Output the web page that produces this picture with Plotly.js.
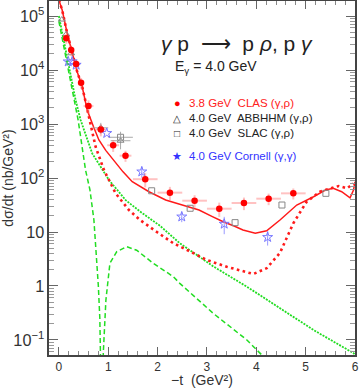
<!DOCTYPE html>
<html><head><meta charset="utf-8">
<script src="https://cdn.plot.ly/plotly-3.0.1.min.js"></script>
<style>body{margin:0;background:#fff}#c{width:359px;height:388px}</style>
</head><body><div id="c"></div>
<script>
// CLAS 3.8 GeV (gamma,rho)
const clasT   = [0.15,0.25,0.35,0.45,0.6,0.85,1.1,1.35,1.75,2.25,2.75,3.25,3.75,4.25,4.75];
const clasY   = [38600,23400,12900,5800,2150,790,404,259,95,53.5,38,27,34.4,41.4,52];
const clasTerr= [0.05,0.05,0.05,0.05,0.1,0.1,0.12,0.12,0.25,0.25,0.25,0.25,0.25,0.25,0.25];
const clasYerr= [8000,5000,2500,1300,600,200,100,60,28,15,10,8,9,10,12];
// ABBHHM 4.0 GeV (gamma,rho)
const abbT    = [0.06,0.15,0.25,0.85,1.25];
const abbY    = [86000,45900,20400,850,490];
const abbTerr = [0,0,0,0.15,0.2];
const abbYerr = [0,0,0,200,150];
// SLAC 4.0 GeV (gamma,rho)
const slacT   = [1.25,1.88,2.66,3.57,4.52,5.41];
const slacY   = [568,58,27.5,14.9,31.6,52];
const slacTerr= [0.25,0,0,0,0,0];
const slacYerr= [150,0,0,0,0,0];
// Cornell 4.0 GeV (gamma,gamma)
const cornT   = [0.19,0.27,0.35,0.97,1.68,2.49,3.35,4.23];
const cornY   = [14300,14300,12400,675,131,19.2,14.1,8.0];
const cornYerr= [0,0,0,0,30,4,5,2.4];
// model curves
const solidT = [0,0.067,0.168,0.27,0.371,0.473,0.574,0.7,0.811,0.95,1.15,1.3,1.487,1.65,1.826,2.0,2.164,2.5,2.84,3.1,3.33,3.55,3.73,3.98,4.21,4.48,4.82,5.16,5.40,5.56,5.73,5.90,5.97,6.0];
const solidY = [198000,129000,48000,20400,9300,4900,1820,900,506,325,187,130,85.5,69,55.7,46.5,39.2,31.6,25.5,19.5,15.5,12.9,10.9,9.5,10.5,16.7,31.6,45,60,64.4,55.7,43,60,85];
const dotT = [0,0.067,0.168,0.27,0.371,0.473,0.574,0.65,0.744,0.913,1.15,1.42,1.643,2.0,2.318,2.65,2.996,3.4,3.7,3.94,4.21,4.48,4.75,5.02,5.29,5.50,5.67,5.84,5.97];
const dotY = [198000,129000,48000,20400,9300,4900,1820,900,380,141,52,25.5,16.7,9.8,6.2,4.4,3.03,2.27,1.9,1.67,2.13,4.1,14.5,36.4,55.7,64.4,71,64.4,79];
const gDotT = [0,0.1,0.2,0.34,0.44,0.675,1.014,1.353,1.643,1.826,2.05,2.45,2.93,3.13,3.81,4.48,5.16,5.97,6.0];
const gDotY = [100000,36000,11500,2760,1186,286,92,39,24,18.5,13,6.2,3.0,2.3,0.97,0.39,0.153,0.057,0.053];
const gDashT = [0,0.1,0.2,0.3,0.39,0.54,0.63,0.71,0.765,0.8,0.83,0.855,0.866,0.875,0.9,0.953,1.034,1.17,1.373,1.576,1.913,2.318,2.45,3.13,3.81,4.11,4.2];
const gDashY = [80000,28000,9000,3000,1186,141,60,16.7,3.5,1.0,0.25,0.055,0.001,0.001,0.057,0.55,2.63,4.3,5.35,4.6,2.63,1.49,1.12,0.31,0.1,0.053,0.04];

const green = '#22dd22';
const traces = [
 {x:gDashT,y:gDashY,mode:'lines',line:{color:green,width:1.5,dash:'5px,3px'}},
 {x:gDotT,y:gDotY,mode:'lines',line:{color:green,width:1.8,dash:'2px,1.2px'}},
 {x:dotT,y:dotY,mode:'lines',line:{color:'#ff1a1a',width:2.6,dash:'2.6px,3.4px'}},
 {x:solidT,y:solidY,mode:'lines',line:{color:'#ff1a1a',width:1.5}},
 {x:slacT,y:slacY,mode:'markers',marker:{symbol:'square-open',size:6,color:'#888',line:{width:1}},
  error_x:{type:'data',array:slacTerr,color:'#aaa',thickness:1,width:0},
  error_y:{type:'data',array:slacYerr,color:'#aaa',thickness:1,width:0}},
 {x:abbT,y:abbY,mode:'markers',marker:{symbol:'triangle-up-open',size:6,color:'#888',line:{width:1}},
  error_x:{type:'data',array:abbTerr,color:'#aaa',thickness:1,width:0},
  error_y:{type:'data',array:abbYerr,color:'#aaa',thickness:1,width:0}},
 {x:cornT,y:cornY,mode:'markers',marker:{symbol:'star-open',size:7.5,color:'#7777ff',line:{width:1}},
  error_y:{type:'data',array:cornYerr,color:'#9999ff',thickness:1,width:0}},
 {x:clasT,y:clasY,mode:'markers',marker:{symbol:'circle',size:6.5,color:'#ff0000'},
  error_x:{type:'data',array:clasTerr,color:'rgba(255,120,120,0.45)',thickness:2,width:0},
  error_y:{type:'data',array:clasYerr,color:'rgba(255,120,120,0.45)',thickness:2,width:0}}
];

const F = 'Liberation Sans, Arial, sans-serif';
const px = (p)=>(p-49)/306, py = (p)=>(355-p)/354;
const ann = (x,y,text,size,color,xa)=>({xref:'paper',yref:'paper',x:px(x),y:py(y),text:text,showarrow:false,
  xanchor:xa||'left',yanchor:'middle',font:{family:F,size:size,color:color}});

const layout = {
 width:359,height:388,margin:{l:49,r:4,t:1,b:33},
 paper_bgcolor:'#fff',plot_bgcolor:'#fff',showlegend:false,
 xaxis:{range:[-0.2,6.0],tickmode:'linear',tick0:0,dtick:1,ticks:'inside',ticklen:8,tickwidth:1,tickcolor:'#666',
   minor:{dtick:0.2,ticks:'inside',ticklen:4,tickcolor:'#888',showgrid:false},
   showgrid:false,zeroline:false,showline:true,linecolor:'#444',linewidth:2,mirror:'ticks',
   tickfont:{family:F,size:12,color:'#333'},
   title:{text:'\u2212t  (GeV\u00b2)',font:{family:F,size:14,color:'#333'},standoff:8}},
 yaxis:{type:'log',range:[-1.278,5.278],tickmode:'linear',tick0:0,dtick:1,exponentformat:'power',
   ticks:'inside',ticklen:9,tickwidth:1,tickcolor:'#666',
   minor:{dtick:'D1',ticks:'inside',ticklen:5,tickcolor:'#999',showgrid:false},
   showgrid:false,zeroline:false,showline:true,linecolor:'#444',linewidth:2,mirror:'ticks',
   tickfont:{family:F,size:13,color:'#333'},
   title:{text:'d\u03c3/dt (nb/GeV\u00b2)',font:{family:F,size:14,color:'#333'},standoff:6}},
 annotations:[
  ann(237,43,'<i>\u03b3</i> p  \u27f6  p <i>\u03c1</i>, p <i>\u03b3</i>',21,'#222','center'),
  ann(173,67,'E<sub>\u03b3</sub> = 4.0 GeV',14,'#222'),
  ann(177,103,'\u25cf',11,'#ff0000','center'),
  ann(187,103,'3.8 GeV  CLAS (\u03b3,\u03c1)',11.5,'#ff2020'),
  ann(177,118,'\u25b3',10,'#222','center'),
  ann(187,118,'4.0 GeV  ABBHHM (\u03b3,\u03c1)',11.5,'#222'),
  ann(177,133,'\u25a1',10,'#222','center'),
  ann(187,133,'4.0 GeV  SLAC (\u03b3,\u03c1)',11.5,'#222'),
  ann(177,156,'\u2605',11,'#3333ff','center'),
  ann(187,156,'4.0 GeV Cornell (\u03b3,\u03b3)',11.5,'#3333ff')
 ]
};
Plotly.newPlot('c',traces,layout,{staticPlot:true,displayModeBar:false});
</script></body></html>
